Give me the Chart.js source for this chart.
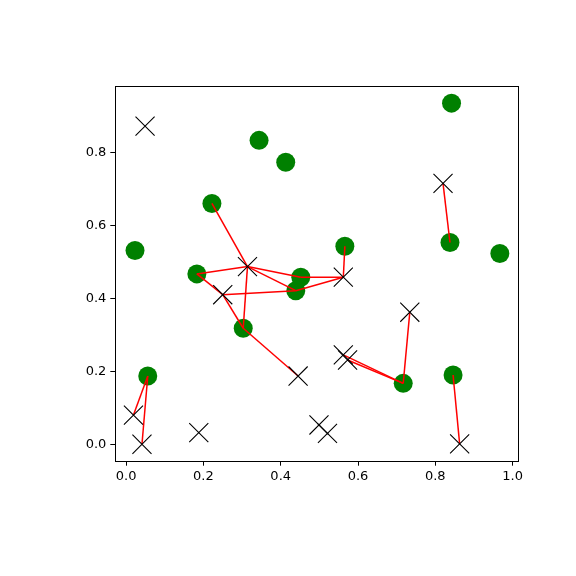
<!DOCTYPE html>
<html>
<head>
<meta charset="utf-8">
<script src="https://cdn.jsdelivr.net/npm/chart.js@4"></script>
<style>
    html, body { margin: 0; padding: 0; background: #fff; }
    #wrap { width: 576px; height: 576px; }
</style>
</head>
<body>
<div id="wrap"><canvas id="scatterChart" width="576" height="576"></canvas></div>
<script>
// green circles
const circleX = [0.842, 0.344, 0.413, 0.222, 0.023, 0.183, 0.566, 0.452, 0.439, 0.303, 0.056, 0.838, 0.967, 0.717, 0.846];
const circleY = [0.935, 0.833, 0.773, 0.660, 0.531, 0.467, 0.543, 0.458, 0.421, 0.318, 0.187, 0.553, 0.523, 0.167, 0.190];

// black crosses
const crossX = [0.049, 0.820, 0.314, 0.250, 0.562, 0.734, 0.562, 0.573, 0.445, 0.019, 0.041, 0.188, 0.499, 0.521, 0.863];
const crossY = [0.872, 0.715, 0.487, 0.410, 0.458, 0.362, 0.245, 0.231, 0.187, 0.080, 0.000, 0.032, 0.053, 0.030, 0.001];

// red links: [circle index, cross index]
const links = [
    [3, 2], [5, 2], [5, 3], [7, 2], [7, 4], [8, 2], [8, 3], [8, 4],
    [9, 3], [9, 2], [9, 8], [6, 4], [10, 9], [10, 10], [11, 1],
    [13, 6], [13, 7], [13, 5], [14, 14]
];

const xTicks = [0.0, 0.2, 0.4, 0.6, 0.8, 1.0];
const yTicks = [0.0, 0.2, 0.4, 0.6, 0.8];

const font = { family: 'DejaVu Sans', size: 13 };

// box round the plot area
const frame = {
    id: 'frame',
    afterDraw(chart) {
        const { ctx, chartArea: a } = chart;
        ctx.save();
        ctx.strokeStyle = '#000';
        ctx.lineWidth = 1;
        ctx.strokeRect(Math.round(a.left) + 0.5, Math.round(a.top) + 0.5,
            Math.round(a.right - a.left), Math.round(a.bottom - a.top));
        ctx.restore();
    }
};

document.addEventListener('DOMContentLoaded', () => {
    const ctx = document.getElementById('scatterChart').getContext('2d');

    const datasets = [];
    datasets.push({
        data: circleX.map((x, i) => ({ x, y: circleY[i] })),
        backgroundColor: '#008000',
        borderWidth: 0,
        pointRadius: 9.5,
        pointStyle: 'circle',
        order: 3
    });
    datasets.push({
        data: crossX.map((x, i) => ({ x, y: crossY[i] })),
        borderColor: '#000',
        backgroundColor: '#000',
        borderWidth: 1.1,
        pointRadius: 13.5,
        pointStyle: 'crossRot',
        order: 1
    });
    links.forEach(([c, k]) => {
        datasets.push({
            data: [{ x: circleX[c], y: circleY[c] }, { x: crossX[k], y: crossY[k] }],
            showLine: true,
            borderColor: '#ff0000',
            borderWidth: 1.5,
            pointRadius: 0,
            order: 2
        });
    });

    new Chart(ctx, {
        type: 'scatter',
        data: { datasets },
        options: {
            responsive: false,
            animation: false,
            layout: { padding: { left: 0, right: 58, top: 86, bottom: 0 } },
            plugins: { legend: { display: false }, tooltip: { enabled: false } },
            scales: {
                x: {
                    type: 'linear',
                    min: -0.028,
                    max: 1.014,
                    afterBuildTicks: s => { s.ticks = xTicks.map(v => ({ value: v })); },
                    afterFit: s => { s.height = 115.3; },
                    grid: { drawOnChartArea: false, drawTicks: true, tickLength: 5, color: '#000' },
                    border: { display: false },
                    ticks: { color: '#000', font, padding: 3, maxRotation: 0, callback: v => v.toFixed(1) }
                },
                y: {
                    type: 'linear',
                    min: -0.045,
                    max: 0.982,
                    afterBuildTicks: s => { s.ticks = yTicks.map(v => ({ value: v })); },
                    afterFit: s => { s.width = 115.3; },
                    grid: { drawOnChartArea: false, drawTicks: true, tickLength: 5, color: '#000' },
                    border: { display: false },
                    ticks: { color: '#000', font, padding: 4, callback: v => v.toFixed(1) }
                }
            }
        },
        plugins: [frame]
    });
});
</script>
</body>
</html>
